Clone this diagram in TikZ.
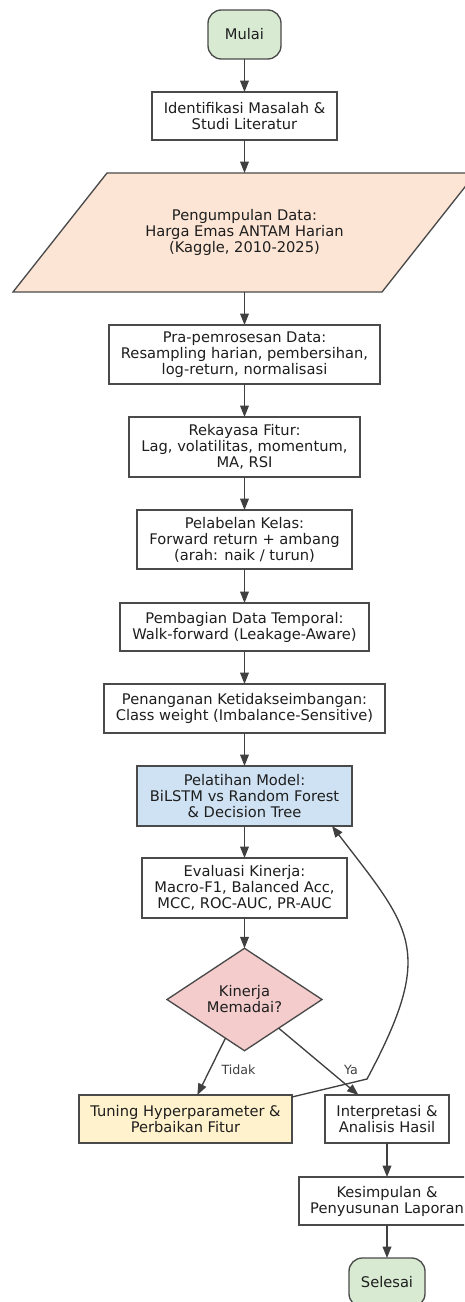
\documentclass[tikz,border=0pt]{standalone}
\usepackage{fontspec}
\setmainfont{DejaVu Sans}
\usetikzlibrary{shapes.geometric,arrows.meta,calc,backgrounds}
\definecolor{edgec}{HTML}{404040}
\definecolor{bordc}{HTML}{4A4A4A}
\definecolor{txtc}{HTML}{1E1E1E}
\definecolor{greenf}{HTML}{D9EAD3}
\definecolor{peachf}{HTML}{FCE5D5}
\definecolor{bluef}{HTML}{CFE2F3}
\definecolor{pinkf}{HTML}{F4CCCC}
\definecolor{yellowf}{HTML}{FFF2CC}
\tikzset{
  base/.style={draw=bordc, line width=1pt, text=txtc, align=center, inner sep=0pt, outer sep=0pt,
    font=\fontsize{11}{12}\selectfont},
  procbox/.style={base, rectangle, fill=white},
  termbox/.style={base, rectangle, rounded corners=10pt, fill=greenf},
  decbox/.style={base, diamond, fill=pinkf},
  flow/.style={draw=edgec, line width=1pt, -{Triangle[length=8.5pt,width=6.5pt]}},
  lab/.style={text=txtc!85, font=\fontsize{9.5}{11}\selectfont, inner sep=0pt}
}
\begin{document}
\begin{tikzpicture}[x=0.75pt,y=-0.75pt]
\path[use as bounding box, clip] (0,0) rectangle (464,1302);

\node[termbox, minimum width=54.75pt, minimum height=36.75pt] (start) at (244.5,34.5) {Mulai};
\node[procbox, minimum width=138.75pt, minimum height=36pt] (ident) at (244.5,116) {Identifikasi Masalah \&\\Studi Literatur};
\node[base, draw=none, minimum width=100pt, minimum height=89.25pt] (data) at (244.5,232.5) {Pengumpulan Data:\\Harga Emas ANTAM Harian\\(Kaggle, 2010-2025)};
\begin{scope}[on background layer]
\fill[white] (0,0) rectangle (464,1302);
\draw[draw=bordc, line width=1pt, fill=peachf]
  ($(data.south)+(-231.5,0)$) -- ($(data.south)+(137.5,0)$) -- ($(data.north)+(231.5,0)$) -- ($(data.north)+(-137.5,0)$) -- cycle;
\end{scope}
\node[procbox, minimum width=203.25pt, minimum height=44.25pt] (prep) at (244.5,354.5) {Pra-pemrosesan Data:\\Resampling harian, pembersihan,\\log-return, normalisasi};
\node[procbox, minimum width=173.25pt, minimum height=45pt] (feat) at (244.5,447) {Rekayasa Fitur:\\Lag, volatilitas, momentum,\\MA, RSI};
\node[procbox, minimum width=161.25pt, minimum height=44.25pt] (lbl) at (244.5,539.5) {Pelabelan Kelas:\\Forward return + ambang\\(arah: naik / turun)};
\node[procbox, minimum width=186.75pt, minimum height=36pt] (split) at (244.5,627) {Pembagian Data Temporal:\\Walk-forward (Leakage-Aware)};
\node[procbox, minimum width=210.75pt, minimum height=36.75pt] (imb) at (244.5,708.5) {Penanganan Ketidakseimbangan:\\Class weight (Imbalance-Sensitive)};
\node[procbox, fill=bluef, minimum width=161.25pt, minimum height=45pt] (train) at (244.5,796) {Pelatihan Model:\\BiLSTM vs Random Forest\\\& Decision Tree};
\node[procbox, minimum width=153.75pt, minimum height=45pt] (eval) at (244.5,888) {Evaluasi Kinerja:\\Macro-F1, Balanced Acc,\\MCC, ROC-AUC, PR-AUC};
\node[decbox, minimum width=116.25pt, minimum height=71.25pt] (dec) at (244.5,999.5) {Kinerja\\Memadai?};
\node[procbox, fill=yellowf, minimum width=159.75pt, minimum height=36pt] (tune) at (185.5,1119) {Tuning Hyperparameter \&\\Perbaikan Fitur};
\node[procbox, minimum width=93pt, minimum height=36pt] (interp) at (387,1119) {Interpretasi \&\\Analisis Hasil};
\node[procbox, minimum width=132pt, minimum height=36pt] (concl) at (387,1201) {Kesimpulan \&\\Penyusunan Laporan};
\node[termbox, minimum width=57pt, minimum height=36.75pt] (finish) at (387,1282.5) {Selesai};

\draw[flow] (start) -- (ident);
\draw[flow] (ident) -- (data);
\draw[flow] (data) -- (prep);
\draw[flow] (prep) -- (feat);
\draw[flow] (feat) -- (lbl);
\draw[flow] (lbl) -- (split);
\draw[flow] (split) -- (imb);
\draw[flow] (imb) -- (train);
\draw[flow] (train) -- (eval);
\draw[flow] (eval) -- (dec);
\draw[flow] (dec) -- (tune);
\draw[flow] (dec) -- (interp);
\draw[flow] (interp) -- (concl);
\draw[flow] (concl) -- (finish);

\node[lab] (tidak) at (238.5,1070) {Tidak};
\node[lab] (ya) at (351,1070) {Ya};

\coordinate (bend) at (367,1079);
\draw[flow] ([yshift=-1.5pt]tune.north east) -- (bend) .. controls (436,950) and (412,930) .. ([xshift=-15pt]train.south east);
\end{tikzpicture}
\end{document}
